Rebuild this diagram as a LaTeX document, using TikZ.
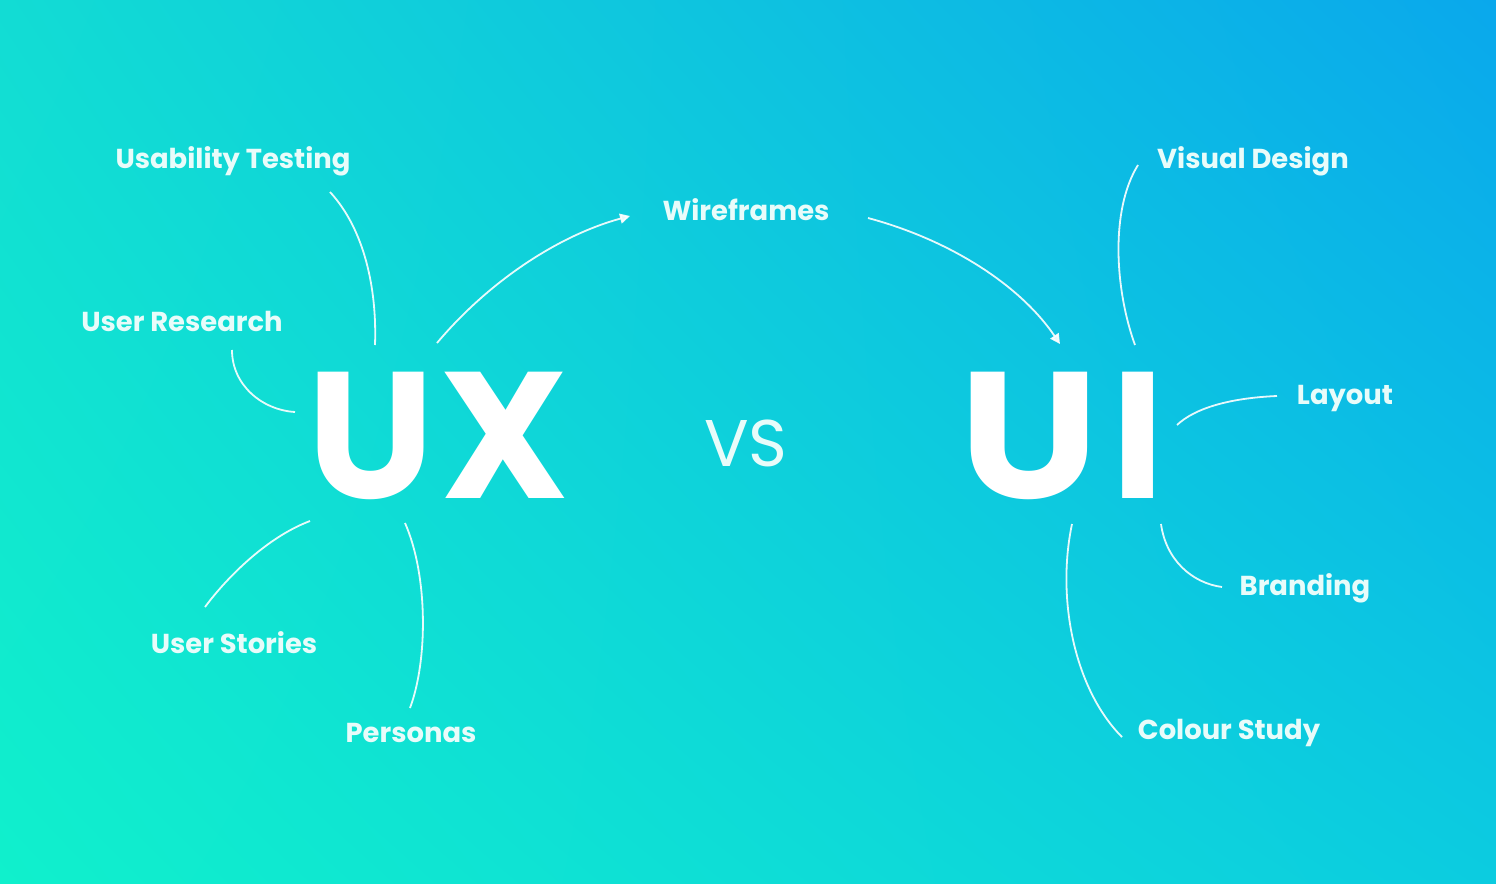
\documentclass[tikz,border=0pt]{standalone}
\usepackage{fontspec}
\setmainfont{Poppins}
\usetikzlibrary{arrows.meta,shadings}
\definecolor{cTL}{HTML}{12DCD4}
\definecolor{cTR}{HTML}{0AA8EC}
\definecolor{cBL}{HTML}{10F0CC}
\definecolor{cBR}{HTML}{0CCCE0}
\definecolor{lbl}{HTML}{E8FCFA}
\tikzset{
  lab/.style={text=lbl, font=\bfseries\fontsize{13.7}{15}\selectfont, inner sep=0pt, yshift=-1.5pt},
  big/.style={text=white, font=\bfseries\fontsize{90}{90}\selectfont, inner sep=0pt},
  link/.style={draw=white, line width=0.9pt, opacity=0.9},
  arr/.style={link, -{Triangle[length=5pt,width=5pt]}}
}
\begin{document}
\begin{tikzpicture}[x=0.5pt,y=-0.5pt]
\useasboundingbox (0,0) rectangle (1496,884);
\shade[upper left=cTL, upper right=cTR, lower left=cBL, lower right=cBR] (0,0) rectangle (1496,884);

\node[big] (ux) at (438,436) {U\kern 3pt X};
\node[big] (ui) at (1062,436) {\scalebox{1.1}[1]{U}\kern 6pt I};
\node[text=lbl, font=\fontsize{33}{33}\selectfont, inner sep=0pt] (vs) at (746,443) {VS};

\node[lab] (ut) at (233,158) {Usability Testing};
\node[lab] (ur) at (182,318) {User Research};
\node[lab] (us) at (234,640) {User Stories};
\node[lab] (pe) at (411,730) {Personas};
\node[lab] (wf) at (746,207) {Wireframes};
\node[lab] (vd) at (1253,158) {Visual Design};
\node[lab] (la) at (1345,396) {Layout};
\node[lab] (br) at (1305,585) {Branding};
\node[lab] (cs) at (1229,730) {Colour Study};

\coordinate (utA) at (330,192); \coordinate (utB) at (375,345);
\coordinate (urA) at (232,350); \coordinate (urB) at (295,412);
\coordinate (usA) at (310,521); \coordinate (usB) at (205,607);
\coordinate (peA) at (405,523); \coordinate (peB) at (410,708);
\coordinate (w1A) at (437,343); \coordinate (w1B) at (630,216);
\coordinate (w2A) at (868,218); \coordinate (w2B) at (1060,344);
\coordinate (vdA) at (1138,165); \coordinate (vdB) at (1135,345);
\coordinate (laA) at (1277,396); \coordinate (laB) at (1177,425);
\coordinate (brA) at (1161,524); \coordinate (brB) at (1222,587);
\coordinate (csA) at (1072,524); \coordinate (csB) at (1122,737);

\draw[link] (utA) .. controls (365,230) and (377,290) .. (utB);
\draw[link] (urA) .. controls (232,385) and (262,410) .. (urB);
\draw[link] (usA) .. controls (265,538) and (225,580) .. (usB);
\draw[link] (peA) .. controls (428,575) and (428,660) .. (peB);
\draw[arr] (w1A) .. controls (490,280) and (560,235) .. (w1B);
\draw[arr] (w2A) .. controls (950,240) and (1020,285) .. (w2B);
\draw[link] (vdA) .. controls (1110,210) and (1115,290) .. (vdB);
\draw[link] (laA) .. controls (1230,398) and (1195,408) .. (laB);
\draw[link] (brA) .. controls (1166,560) and (1192,583) .. (brB);
\draw[link] (csA) .. controls (1056,600) and (1075,690) .. (csB);
\end{tikzpicture}
\end{document}
